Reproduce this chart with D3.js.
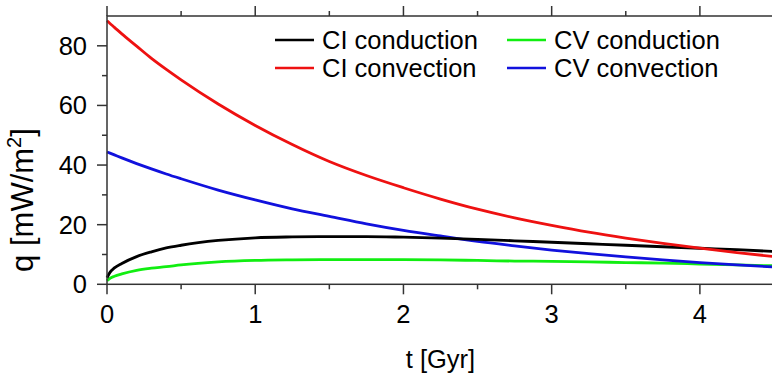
<!DOCTYPE html>
<html>
	<head>
		<style>
			body { margin: 0; background: #fff; }
			svg { display: block; }
			.axisLine, .tick { stroke: #333; stroke-width: 1.5px; fill: none; }
			.tickText { font: 25.5px "Liberation Sans", Arial, sans-serif; fill: #000; }
			.axisTitle { font: 25.5px "Liberation Sans", Arial, sans-serif; fill: #000; }
			.legendText { font: 25.5px "Liberation Sans", Arial, sans-serif; fill: #000; }
			.curve { fill: none; stroke-width: 2.8px; stroke-linejoin: round; }
		</style>
		<script src="https://d3js.org/d3.v7.min.js"></script>
	</head>
	<body>
		<svg width="772" height="374"></svg>
		<script>
			// time in Gyr
			var tGyr = [0, 0.02, 0.05, 0.1, 0.2, 0.3, 0.4, 0.5, 0.75, 1, 1.25, 1.5, 1.75, 2, 2.25, 2.5, 2.75, 3, 3.25, 3.5, 3.75, 4, 4.25, 4.5];

			// heat flux q [mW/m2]
			var ciConduction = [2.2, 4.0, 5.5, 7.0, 9.3, 10.9, 12.2, 13.1, 14.7, 15.6, 15.9, 16.0, 16.0, 15.8, 15.5, 15.1, 14.6, 14.1, 13.6, 13.1, 12.6, 12.1, 11.6, 11.0];
			var ciConvection = [88.4, 87.5, 86.2, 84.0, 79.9, 75.8, 72.1, 68.6, 60.5, 53.3, 46.9, 41.2, 36.5, 32.4, 28.6, 25.2, 22.3, 19.8, 17.5, 15.5, 13.7, 12.1, 10.6, 9.3];
			var cvConduction = [1.2, 2.0, 2.7, 3.5, 4.7, 5.4, 5.9, 6.5, 7.5, 8.0, 8.2, 8.3, 8.3, 8.3, 8.2, 8.0, 7.8, 7.7, 7.5, 7.3, 7.1, 6.8, 6.5, 6.2];
			var cvConvection = [44.4, 44.0, 43.4, 42.4, 40.5, 38.7, 37.0, 35.4, 31.6, 28.3, 25.3, 22.8, 20.3, 18.1, 16.2, 14.4, 12.9, 11.5, 10.3, 9.2, 8.2, 7.3, 6.5, 5.8];

			var xMajor = [0, 1, 2, 3, 4];
			var xMinor = [0.5, 1.5, 2.5, 3.5, 4.5];
			var yMajor = [0, 20, 40, 60, 80];
			var yMinor = [10, 30, 50, 70];

			var seriesNames = ["CI conduction", "CI convection", "CV conduction", "CV convection"];
			var seriesColors = ["#000000", "#ee1111", "#11ee11", "#1111dd"];
			var seriesData = [ciConduction, ciConvection, cvConduction, cvConvection];

			var svg = d3.select("svg");

			var plotLeft = 107, plotRight = 774, plotTop = 16, plotBottom = 284.3;
			var x = d3.scaleLinear().domain([0, 4.5]).range([plotLeft, plotRight]);
			var y = d3.scaleLinear().domain([0, 90]).range([plotBottom, plotTop]);

			// curves first, frame on top
			var line = d3.line()
				.x(function(d, i) { return x(tGyr[i]); })
				.y(function(d) { return y(d); })
				.curve(d3.curveMonotoneX);

			var drawOrder = [2, 3, 0, 1];
			drawOrder.forEach(function(k)
			{
				svg.append("path")
					.attr("class", "curve")
					.attr("stroke", seriesColors[k])
					.attr("d", line(seriesData[k]));
			});

			// frame
			svg.append("rect")
				.attr("class", "axisLine")
				.attr("x", plotLeft).attr("y", plotTop)
				.attr("width", plotRight - plotLeft).attr("height", plotBottom - plotTop);

			// bottom and top ticks (outward)
			function xTicks(vals, len)
			{
				vals.forEach(function(v)
				{
					svg.append("line").attr("class", "tick")
						.attr("x1", x(v)).attr("x2", x(v))
						.attr("y1", plotBottom).attr("y2", plotBottom + len);
					svg.append("line").attr("class", "tick")
						.attr("x1", x(v)).attr("x2", x(v))
						.attr("y1", plotTop).attr("y2", plotTop - len);
				});
			}
			xTicks(xMajor, 10);
			xTicks(xMinor, 5);

			function yTicks(vals, len)
			{
				vals.forEach(function(v)
				{
					svg.append("line").attr("class", "tick")
						.attr("x1", plotLeft - len).attr("x2", plotLeft)
						.attr("y1", y(v)).attr("y2", y(v));
				});
			}
			yTicks(yMajor, 10);
			yTicks(yMinor, 5);

			svg.selectAll("text.xLab")
				.data(xMajor)
				.enter()
				.append("text")
				.attr("class", "tickText xLab")
				.attr("x", function(d) { return x(d); })
				.attr("y", 322.5)
				.attr("text-anchor", "middle")
				.text(function(d) { return d; });

			svg.selectAll("text.yLab")
				.data(yMajor)
				.enter()
				.append("text")
				.attr("class", "tickText yLab")
				.attr("x", 87)
				.attr("y", function(d) { return y(d) + 9; })
				.attr("text-anchor", "end")
				.text(function(d) { return d; });

			// axis titles
			svg.append("text")
				.attr("class", "axisTitle")
				.attr("x", (plotLeft + plotRight) / 2)
				.attr("y", 368)
				.attr("text-anchor", "middle")
				.text("t [Gyr]");

			var yt = svg.append("text")
				.attr("class", "axisTitle")
				.attr("transform", "translate(33,200) rotate(-90)")
				.attr("text-anchor", "middle")
				.style("font-size", "31px");
			yt.append("tspan").text("q [mW/m");
			yt.append("tspan").attr("dy", -12).style("font-size", "20px").text("2");
			yt.append("tspan").attr("dy", 12).text("]");

			// legend
			var legendX = [275, 507];
			var legendY = [40, 68];
			seriesNames.forEach(function(name, k)
			{
				var col = Math.floor(k / 2), row = k % 2;
				svg.append("line")
					.attr("x1", legendX[col]).attr("x2", legendX[col] + 39)
					.attr("y1", legendY[row]).attr("y2", legendY[row])
					.attr("stroke", seriesColors[k])
					.attr("stroke-width", 2.5);
				svg.append("text")
					.attr("class", "legendText")
					.attr("x", legendX[col] + 47)
					.attr("y", legendY[row] + 9)
					.text(name);
			});
		</script>
	</body>
</html>
